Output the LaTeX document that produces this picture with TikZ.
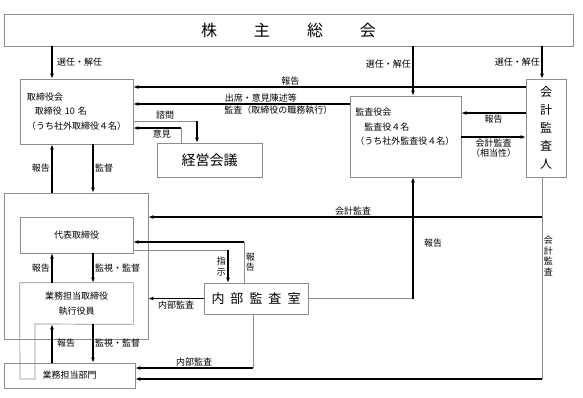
\documentclass[tikz,border=0pt]{standalone}
\usepackage{fontspec}
\setmainfont{Noto Sans CJK JP}
\usepackage{xcolor}
\usetikzlibrary{arrows.meta}
\definecolor{lgray}{HTML}{8C8C8C}
\newcommand{\lblfont}{\fontsize{9}{10}\selectfont}

\begin{document}
\begin{tikzpicture}[x=1pt,y=-1pt,
      box/.style={rectangle,draw=lgray,line width=0.7pt,inner sep=0pt,
                  font=\fontsize{9}{14.5}\selectfont,align=center},
      boxline/.style={draw=lgray,line width=0.7pt},
      link/.style={lgray,line width=0.7pt},
      arrow/.style={-{Latex[length=5pt,width=4pt]},line width=1.2pt,black},
      lbl/.style={font=\lblfont,inner sep=1.5pt,text=black},
      vlbl/.style={lbl,align=center,font=\fontsize{9}{10.5}\selectfont}
    ]
    \useasboundingbox (0,0) rectangle (583,397);

    % lanes
    \coordinate (l1) at (52,0);
    \coordinate (l2) at (93,0);
    \coordinate (l3) at (413,0);
    \coordinate (l4) at (542,0);
    \coordinate (r1) at (0,87);
    \coordinate (r2) at (0,104);
    \coordinate (r3) at (0,113);
    \coordinate (r4) at (0,137);

    % shareholders
    \node[box,minimum width=569pt,minimum height=32pt,
          font=\fontsize{16}{18}\selectfont] (kabu) at (288.5,30)
          {株\hspace{37pt}主\hspace{37pt}総\hspace{37pt}会};

    % board
    \node[box,minimum width=113pt,minimum height=65pt,text width=99pt,
          align=left] (tori) at (76.5,111.5)
          {取締役会\\\hspace{8pt}取締役 10 名\\（うち社外取締役４名）};
    \node[box,minimum width=105pt,minimum height=34pt,
          font=\fontsize{14}{16}\selectfont] (keiei) at (209.5,160) {経営会議};

    % audit
    \node[box,minimum width=111pt,minimum height=81pt] (kansa) at (405.5,136.5) {};
    \node[box,draw=none,anchor=north west,align=left] (kansa-t) at (355,108)
          {監査役会\\\hspace{9pt}監査役４名\\（うち社外監査役４名）};
    \node[box,minimum width=40pt,minimum height=98pt,
          font=\fontsize{12}{18}\selectfont] (kaikei) at (546,128)
          {会\\計\\監\\査\\人};

    % executives
    \node[box,minimum width=144pt,minimum height=146pt] (yakuin) at (76,266) {};
    \node[box,minimum width=113pt,minimum height=36pt] (daihyo) at (76.5,235) {代表取締役};
    \node[box,draw=none,minimum width=113pt,minimum height=41pt] (gyomu) at (76.5,303.5)
          {業務担当取締役\\執行役員};
    \draw[boxline] (gyomu.north west) -- (gyomu.north east) -- (gyomu.south east)
          -- (35,324) -- (35,379) -- (20,379) -- cycle;
    \node[box,minimum width=131pt,minimum height=25pt] (bumon) at (69.5,375.5) {業務担当部門};

    % internal audit
    \node[box,minimum width=104pt,minimum height=31pt,
          font=\fontsize{13}{15}\selectfont] (naibu) at (256,298.5)
          {内\hspace{6pt}部\hspace{6pt}監\hspace{6pt}査\hspace{6pt}室};

    % arrows
    \draw[arrow] (kabu.south -| l1) -- node[lbl,right,xshift=3pt]{選任・解任} (tori.north -| l1);
    \draw[arrow] (kabu.south -| l3) -- node[lbl,left,pos=0.35]{選任・解任} (kansa.north -| l3);
    \draw[arrow] (kabu.south -| l4) -- node[lbl,left]{選任・解任} (kaikei.north -| l4);

    \draw[arrow] (kaikei.west |- r1) -- node[lbl,above,pos=0.6]{報告} (tori.east |- r1);
    \draw[arrow] (kansa.west |- r2)
          -- node[lbl,above,pos=0.41]{出席・意見陳述等}
             node[lbl,below,pos=0.33]{監査（取締役の職務執行）} (tori.east |- r2);

    \coordinate (c1) at (197,121);
    \coordinate (c2) at (181,128);
    \draw[link] (tori.east |- c1) -- node[lbl,above]{諮問} (c1);
    \draw[arrow] (c1) -- (keiei.north -| c1);
    \draw[link] (keiei.north -| c2) -- (c2);
    \draw[arrow] (c2) -- node[lbl,below,pos=0.4]{意見} (tori.east |- c2);

    \draw[arrow] (kaikei.west |- r3) -- node[lbl,below]{報告} (kansa.east |- r3);
    \draw[arrow] (kansa.east |- r4) -- node[lbl,below,align=center]{会計監査\\（相当性）} (kaikei.west |- r4);

    \draw[arrow] (yakuin.north -| l1) -- node[lbl,left]{報告} (tori.south -| l1);
    \draw[arrow] (tori.south -| l2) -- node[lbl,right]{監督} (yakuin.north -| l2);

    \coordinate (k1) at (542,217);
    \coordinate (k2) at (542,379);
    \draw[link] (kaikei.south -| l4) -- node[vlbl,right,pos=0.39]{会\\計\\監\\査} (k2);
    \draw[arrow] (k1) -- node[lbl,above,pos=0.48]{会計監査} (yakuin.east |- k1);
    \draw[arrow] (k2) -- (bumon.east |- k2);

    \coordinate (n1) at (413,298.5);
    \draw[link] (naibu.east) -- (n1);
    \draw[arrow] (n1) -- node[lbl,right=9pt,pos=0.46]{報告} (kansa.south -| n1);

    \coordinate (d1) at (228,250);
    \coordinate (d2) at (244,242);
    \draw[link] (daihyo.east |- d1) -- (d1);
    \draw[arrow] (d1) -- node[vlbl,left]{指\\示} (naibu.north -| d1);
    \draw[link] (naibu.north -| d2) -- node[vlbl,right]{報\\告} (d2);
    \draw[arrow] (d2) -- (daihyo.east |- d2);

    \draw[arrow] (gyomu.north -| l1) -- node[lbl,left]{報告} (daihyo.south -| l1);
    \draw[arrow] (daihyo.south -| l2) -- node[lbl,right]{監視・監督} (gyomu.north -| l2);
    \draw[arrow] (naibu.west) -- node[lbl,below]{内部監査} (yakuin.east |- naibu.west);

    \draw[arrow] (bumon.north -| l1) -- node[lbl,right,xshift=3pt]{報告} (gyomu.south -| l1);
    \draw[arrow] (gyomu.south -| l2) -- node[lbl,right]{監視・監督} (bumon.north -| l2);

    \coordinate (n2) at (253,368);
    \draw[link] (naibu.south -| n2) -- (n2);
    \draw[arrow] (n2) -- node[lbl,above]{内部監査} (bumon.east |- n2);

  \end{tikzpicture}
\end{document}
